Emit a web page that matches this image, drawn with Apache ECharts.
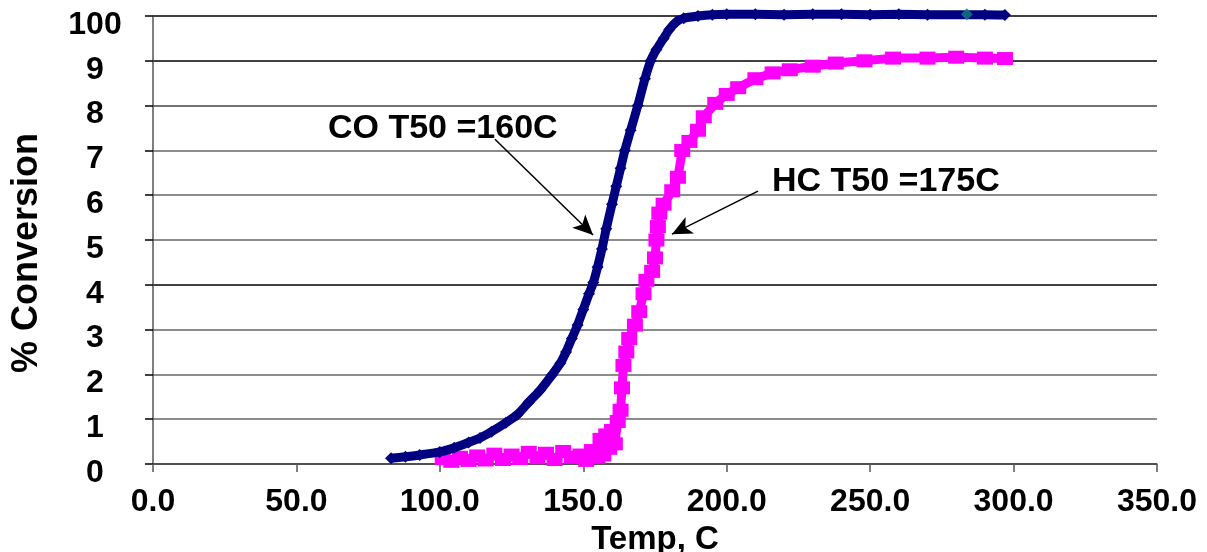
<!DOCTYPE html>
<html>
<head>
<meta charset="utf-8">
<script src="https://cdn.jsdelivr.net/npm/echarts@6/dist/echarts.min.js"></script>
<style>html,body{margin:0;padding:0;background:#fff;}#c{width:1207px;height:552px;}</style>
</head>
<body>
<div id="c"></div>
<script>
// Temperature (C) and % conversion
const coTemp = [83,88,93,100,105,110,114,118,123,127,131,135,139,142,144,146,148,150,152,153.5,155,156.5,158,160,161.5,163,164.5,166.5,169,171.5,173.5,175.5,178,180,182.5,185,190,195,200,210,220,230,240,250,260,270,290,297];
const coConv = [1.3,1.6,2.0,2.7,3.6,4.8,5.8,7.2,9.2,11.0,13.8,16.5,19.8,22.5,25.0,28.0,31.0,34.5,38.0,40.5,44.0,48.0,52.5,58.0,62.0,66.0,70.0,74.5,80.0,86.0,90.0,92.5,95.0,97.0,98.7,99.5,100.0,100.3,100.4,100.4,100.3,100.4,100.4,100.3,100.4,100.3,100.3,100.2];

const hcTemp = [101,104,107,110,113,116,119,122,125,128,131,134,137,140,143,146,149,151,153,155,156,157,158,159,160,161,162,163,163.5,164,165,166,168,169.5,171,172,174,175,175.5,176,176.5,178,181,183,184.5,187,190,192,196,200,204,210,216,222,230,238,248,258,270,280,290,297];
const hcConv = [1.2,0.6,1.5,0.8,1.8,0.9,2.2,1.0,2.0,1.2,2.6,1.4,2.4,1.0,2.8,1.5,2.0,0.8,3.0,1.5,5.5,2.0,6.5,3.5,7.5,4.5,9.5,12,17,22,25,28,31,34,38,41,43,46,50,53,56,58,61,64,70,72,74.5,77.5,80.5,82.5,84,86,87.3,88,88.8,89.5,90,90.6,90.6,90.8,90.6,90.5];

const markTemp = [283.7];
const markConv = [100.4];

const yTickLabels = ['0','1','2','3','4','5','6','7','8','9','100'];
const xTickLabels = ['0.0','50.0','100.0','150.0','200.0','250.0','300.0','350.0'];

const coArrow = [[119.2,72.5],[153.4,51.1]];
const hcArrow = [[210.9,60.9],[180.9,51.3]];

const zip = (a,b) => a.map((v,i)=>[v,b[i]]);
const FONT = '"Liberation Sans", Arial, sans-serif';

const chart = echarts.init(document.getElementById('c'));
chart.setOption({
  animation:false,
  backgroundColor:'#fff',
  grid:{left:153,right:50,top:16,bottom:88,containLabel:false,outerBoundsMode:'none'},
  xAxis:{
    type:'value',min:0,max:350,interval:50,
    name:'Temp, C',nameLocation:'middle',nameGap:59,
    nameTextStyle:{fontFamily:FONT,fontWeight:'bold',fontSize:33,color:'#000'},
    axisLine:{show:true,lineStyle:{color:'#555',width:1.5}},
    axisTick:{show:true,length:8,lineStyle:{color:'#555',width:1.5}},
    axisLabel:{margin:22,fontFamily:FONT,fontWeight:'bold',fontSize:32,color:'#000',
      formatter:v=>xTickLabels[Math.round(v/50)]},
    splitLine:{show:false}
  },
  yAxis:{
    type:'value',min:0,max:100,interval:10,
    name:'% Conversion',nameLocation:'middle',nameGap:108,nameRotate:90,
    nameTextStyle:{fontFamily:FONT,fontWeight:'bold',fontSize:36,color:'#000',padding:[0,0,0,-26]},
    axisLine:{show:true,lineStyle:{color:'#555',width:1.5}},
    axisTick:{show:true,length:8,lineStyle:{color:'#000',width:1.5}},
    axisLabel:{margin:58,align:'center',verticalAlign:'top',lineHeight:18,fontFamily:FONT,fontWeight:'bold',fontSize:32,color:'#000',
      formatter:v=>yTickLabels[Math.round(v/10)]},
    splitLine:{show:true,lineStyle:{width:1.5,color:['#000','#666','#666','#666','#000','#666','#666','#666','#444','#000','#000']}}
  },
  series:[
    {
      name:'CO',type:'line',clip:false,data:zip(coTemp,coConv),
      symbol:'diamond',symbolSize:12,showSymbol:true,smooth:0.2,
      itemStyle:{color:'#000080'},lineStyle:{color:'#000080',width:9},
      z:3,
      markLine:{silent:true,symbol:['none','arrow'],symbolSize:[14,20],label:{show:false},
        lineStyle:{color:'#000',width:1.5,type:'solid'},
        data:[[{coord:coArrow[0]},{coord:coArrow[1]}],[{coord:hcArrow[0]},{coord:hcArrow[1]}]]}
    },
    {
      name:'HC',type:'line',clip:false,data:zip(hcTemp,hcConv),
      symbol:'rect',symbolSize:[16,13],showSymbol:true,
      itemStyle:{color:'#FF00FF'},lineStyle:{color:'#FF00FF',width:9},
      z:2
    },
    {
      name:'mark',type:'scatter',clip:false,data:zip(markTemp,markConv),
      symbol:'diamond',symbolSize:12,itemStyle:{color:'#108080'},z:4
    }
  ],
  graphic:[
    {type:'text',left:328,top:112,style:{text:'CO T50 =160C',fontFamily:FONT,fontWeight:'bold',fontSize:34,fill:'#000'}},
    {type:'text',left:772,top:165,style:{text:'HC T50 =175C',fontFamily:FONT,fontWeight:'bold',fontSize:34,fill:'#000'}}
  ]
});
</script>
</body>
</html>
